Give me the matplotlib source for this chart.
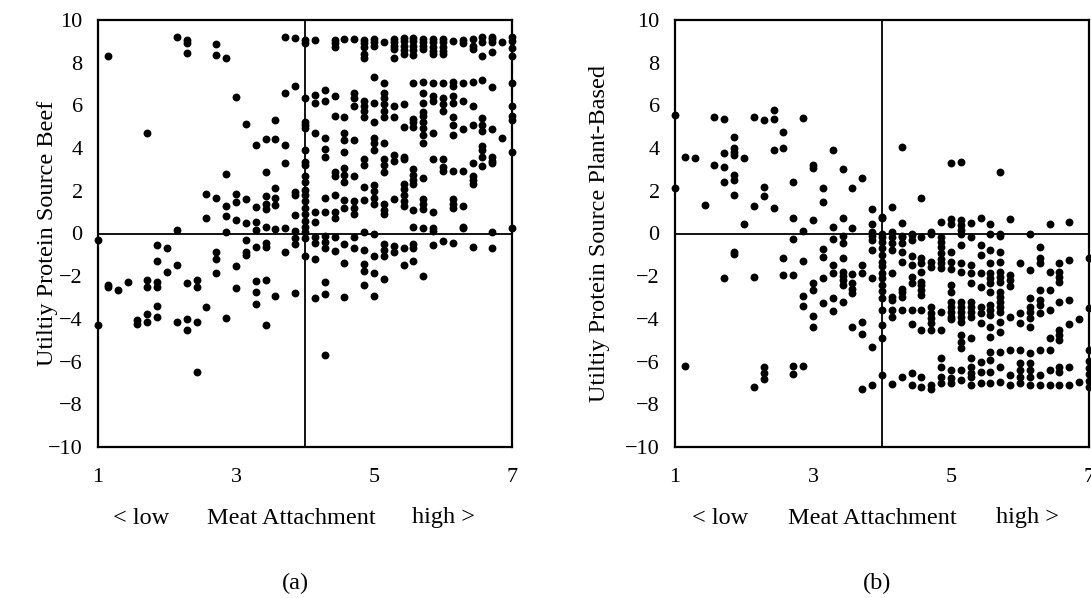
import matplotlib
matplotlib.use("Agg")
import matplotlib.pyplot as plt

# ---------------- data ----------------
# x levels of Meat Attachment (steps of 1/7)
x_levels = [1.0, 1.14, 1.29, 1.43, 1.57, 1.71, 1.86, 2.0, 2.14, 2.29, 2.43, 2.57, 2.71,
            2.86, 3.0, 3.14, 3.29, 3.43, 3.57, 3.71, 3.86, 4.0, 4.14, 4.29, 4.43, 4.57,
            4.71, 4.86, 5.0, 5.14, 5.29, 5.43, 5.57, 5.71, 5.86, 6.0, 6.14, 6.29, 6.43,
            6.57, 6.71, 6.86, 7.0]

# (a) Utility protein source beef: y values per x level
beef_y = [
    [-0.3, -4.29],
    [8.3, -2.4, -2.5],
    [-2.65],
    [-2.26],
    [-4.05, -4.25],
    [4.7, -2.2, -2.5, -3.75, -4.13],
    [-0.55, -1.3, -2.26, -2.5, -3.4, -3.93],
    [-0.66, -1.82],
    [9.22, 0.16, -1.48, -4.13],
    [9.06, 8.9, 8.44, -2.3, -4.02, -4.52],
    [-2.2, -2.52, -4.13, -6.5],
    [1.83, 0.71, -3.46],
    [8.86, 8.36, 1.65, -0.88, -1.19, -1.87],
    [8.2, 2.8, 1.29, 0.82, 0.06, -3.97],
    [6.38, 1.83, 1.49, 0.63, -1.52, -2.57],
    [5.11, 1.62, 0.48, -0.3, -0.85, -1.0],
    [4.15, 1.26, 0.55, 0.16, -0.62, -2.21, -2.72, -3.3],
    [4.41, 2.87, 1.76, 1.37, 1.15, 0.32, -0.46, -0.65, -2.18, -4.3],
    [5.33, 4.43, 2.13, 1.65, 1.33, 0.21, -2.93],
    [9.22, 6.57, 4.15, 3.32, 0.27, -0.85],
    [9.17, 6.92, 1.96, 1.8, 0.87, 0.1, -0.2, -0.5, -2.77],
    [9.06, 8.9, 6.33, 5.24, 5.08, 4.93, 3.9, 3.36, 3.2, 2.7, 2.43, 2.04, 1.8, 1.5,
     1.2, 0.9, 0.6, 0.3, 0.05, -0.2, -1.05],
    [9.06, 6.5, 6.09, 4.69, 1.02, 0.55, -0.15, -0.43, -1.21, -3.04],
    [6.7, 6.2, 4.45, 3.98, 3.59, 1.65, 1.02, -0.1, -0.41, -0.66, -2.26, -2.85, -5.69],
    [9.06, 8.9, 8.75, 6.42, 5.5, 2.9, 2.67, 1.8, 1.0, 0.71, -0.15, -0.8],
    [9.1, 5.47, 4.69, 4.38, 3.8, 3.07, 2.75, 2.43, 1.57, 1.18, -0.5, -1.37, -2.96],
    [9.1, 6.6, 6.35, 5.99, 4.38, 2.7, 1.5, 1.2, 0.9, -0.15, -0.66],
    [9.06, 8.9, 8.75, 8.39, 8.23, 6.2, 5.97, 5.74, 5.47, 3.5, 3.2, 2.2, 1.57, 0.05,
     -0.76, -1.41, -1.76, -2.41],
    [9.1, 8.99, 8.8, 7.34, 6.12, 5.24, 4.45, 4.23, 3.9, 2.27, 2.0, 1.65, 1.4, 0.0,
     -1.05, -1.87, -2.91],
    [8.97, 7.03, 6.6, 6.35, 6.05, 5.74, 5.47, 4.23, 3.5, 3.2, 2.9, 1.4, 1.1, 0.9,
     -0.5, -0.76, -1.05, -2.15],
    [9.1, 8.95, 8.8, 8.65, 8.2, 5.98, 5.47, 3.67, 3.4, 1.6, -0.6, -0.85],
    [9.15, 9.0, 8.8, 8.6, 8.4, 6.05, 5.0, 3.59, 3.5, 2.3, 2.1, 1.8, 1.5, 1.3, -0.7, -1.48],
    [9.15, 9.0, 8.8, 8.6, 8.35, 7.03, 5.34, 5.2, 5.0, 3.0, 2.75, 2.5, 2.3, 1.1, 0.3,
     -0.5, -0.7, -1.3],
    [9.1, 8.95, 8.8, 8.65, 7.1, 6.6, 6.1, 5.7, 5.5, 5.2, 4.95, 4.6, 4.23, 2.6, 1.6,
     1.4, 1.15, 0.25, -1.98],
    [9.1, 8.95, 8.75, 8.55, 8.4, 7.03, 6.42, 6.2, 4.69, 3.5, 1.0, 0.25, 0.1, -0.54],
    [9.1, 8.95, 8.75, 8.55, 8.4, 7.03, 6.35, 6.05, 5.74, 3.5, 3.1, 2.95, -0.33],
    [9.0, 7.1, 6.9, 6.42, 6.1, 5.47, 5.08, 4.6, 2.95, 1.6, 1.4, 1.2, -0.45],
    [9.06, 8.9, 7.03, 6.2, 4.9, 2.95, 1.3, 0.3, 0.25],
    [9.1, 8.8, 8.65, 7.1, 5.99, 5.1, 3.3, 2.7, 2.5, 2.3, -0.63],
    [9.2, 8.97, 8.3, 7.2, 5.4, 5.1, 4.8, 4.1, 3.9, 3.6, 3.15],
    [9.2, 9.1, 8.97, 8.5, 6.87, 4.9, 3.6, 3.3, 3.4, 0.05, -0.7],
    [8.97, 4.45],
    [9.2, 9.0, 8.7, 8.3, 7.03, 5.97, 5.5, 5.3, 3.83, 0.25],
]

# (b) Utility protein source plant-based: y values per x level
plant_y = [
    [5.55, 2.12],
    [3.6, -6.19],
    [3.55],
    [1.33],
    [5.47, 3.21],
    [5.36, 3.76, 3.13, 2.4, -2.1],
    [4.53, 3.99, 3.8, 3.68, 2.74, 2.5, 1.8, -0.85, -0.96],
    [3.55, 0.45],
    [5.47, 1.29, -2.02, -7.18],
    [5.31, 2.19, 1.76, -6.27, -6.55, -6.83],
    [5.78, 5.36, 3.91, 1.21],
    [4.74, 4.02, -1.16, -1.94],
    [2.4, 0.71, -0.27, -1.94, -6.19, -6.6],
    [5.39, 0.12, -1.29, -2.91, -3.4, -6.19],
    [3.21, 3.05, 0.63, -2.3, -2.65, -3.86, -4.36],
    [2.12, 1.46, -0.73, -1.09, -2.1, -3.27],
    [3.91, 0.32, -0.27, -1.48, -1.86, -3.0, -3.63],
    [3.0, 0.74, -0.12, -0.45, -1.16, -1.8, -2.0, -2.2, -2.4, -3.2],
    [2.15, 0.27, -1.9, -2.3, -2.6, -2.8, -4.4],
    [2.58, -1.48, -1.86, -4.16, -4.7, -7.3],
    [1.13, 0.43, 0.06, -0.1, -0.3, -0.78, -2.1, -5.3, -7.1],
    [0.79, 0.74, 0.0, -0.15, -0.38, -0.7, -1.0, -1.32, -1.5, -1.87, -2.1, -2.4, -2.7,
     -3.0, -3.58, -4.3, -4.9, -6.63],
    [1.26, 0.05, -0.15, -0.46, -0.77, -1.87, -2.96, -3.1, -3.58, -3.93, -7.05],
    [4.07, 0.48, -0.1, -0.15, -0.46, -0.85, -1.32, -2.6, -2.75, -2.96, -3.58, -6.71],
    [0.0, -0.08, -0.3, -1.05, -1.48, -2.02, -2.33, -3.58, -4.25, -6.55, -7.1],
    [1.68, -0.15, -1.17, -1.4, -1.79, -2.25, -2.41, -2.64, -2.87, -3.58, -4.52, -6.71, -7.18],
    [0.05, 0.0, -1.32, -1.56, -3.43, -3.74, -3.98, -4.21, -4.52, -7.1, -7.26],
    [0.52, -0.15, -0.38, -0.62, -0.9, -1.2, -1.4, -1.6, -3.66, -4.52, -5.85, -6.24,
     -6.71, -7.02],
    [3.32, 0.7, 0.43, -0.85, -1.32, -1.64, -2.41, -2.72, -3.2, -3.43, -3.66, -3.9,
     -4.0, -6.4, -6.79, -7.02],
    [3.36, 0.63, 0.4, 0.16, 0.0, -0.54, -1.4, -1.79, -3.2, -3.43, -3.66, -3.9, -4.13,
     -4.75, -5.06, -5.37, -6.4, -6.86],
    [0.48, -0.15, -1.48, -1.87, -2.33, -3.2, -3.43, -3.66, -3.9, -4.9, -5.85, -6.24,
     -6.55, -6.71, -7.1],
    [0.74, -0.54, -1.0, -1.87, -2.5, -3.43, -3.74, -4.21, -6.01, -6.47, -7.02],
    [0.43, 0.0, -0.77, -1.4, -1.87, -2.1, -2.33, -2.72, -3.35, -3.58, -3.82, -4.36,
     -4.83, -5.53, -5.92, -6.47, -7.02],
    [2.87, 0.0, -0.1, -0.85, -1.32, -1.79, -2.02, -2.25, -2.72, -2.96, -3.2, -3.43,
     -3.66, -4.13, -4.6, -5.53, -6.24, -6.94],
    [0.7, -1.95, -2.2, -2.45, -3.9, -5.45, -6.63, -7.1],
    [-1.4, -3.74, -4.21, -5.45, -6.08, -6.4, -6.7, -7.02],
    [0.0, -1.72, -3.04, -3.43, -3.7, -3.98, -4.36, -5.61, -6.08, -6.4, -6.7, -7.1],
    [-0.62, -1.17, -1.4, -2.64, -3.1, -3.35, -3.74, -5.45, -6.63, -7.1],
    [0.43, -1.79, -2.64, -3.58, -4.9, -5.45, -6.39, -7.1],
    [-1.4, -1.79, -2.02, -2.25, -3.2, -4.52, -4.75, -5.0, -6.24, -6.47, -7.1],
    [0.52, -1.24, -3.12, -4.25, -6.24, -7.1],
    [-4.0, -6.94],
    [-1.17, -3.5, -5.45, -5.99, -6.3, -6.6, -6.9, -7.2],
]

x_ticks = [1, 3, 5, 7]
y_ticks = list(range(-10, 11, 2))
y_labels = ["Utiltiy Protein Source Beef", "Utiltiy Protein Source Plant-Based"]
x_words = ["< low", "Meat Attachment", "high >"]
panel_tags = ["(a)", "(b)"]

# ---------------- drawing ----------------
plt.rcParams["font.family"] = ["Liberation Serif", "DejaVu Serif"]
FS_TICK = 16
FS = 17.5

fig = plt.figure(figsize=(10.91, 5.98), dpi=100)
W, H = 1091.0, 598.0

panels = [
    dict(left=98, ys=beef_y, ylabx=48, words=[141, 291, 444], tag=295),
    dict(left=675, ys=plant_y, ylabx=600, words=[720, 872, 1027], tag=877),
]

for i, p in enumerate(panels):
    ax = fig.add_axes([p["left"] / W, (H - 447) / H, 414 / W, 427 / H])
    xs, ys = [], []
    for xv, col in zip(x_levels, p["ys"]):
        for yv in col:
            xs.append(xv)
            ys.append(yv)
    ax.scatter(xs, ys, s=32, color="black", zorder=3, clip_on=False, linewidths=0)
    ax.axvline(4, color="black", lw=1.3, zorder=2)
    ax.axhline(0, color="black", lw=1.3, zorder=2)
    ax.set_xlim(1, 7)
    ax.set_ylim(-10, 10)
    ax.set_xticks(x_ticks)
    ax.set_yticks(y_ticks)
    ax.set_yticklabels([f"{v}".replace("-", "\u2212") for v in y_ticks])
    ax.tick_params(length=0, labelsize=FS_TICK)
    ax.tick_params(axis="x", pad=15)
    ax.tick_params(axis="y", pad=11)
    for sp in ax.spines.values():
        sp.set_linewidth(1.6)
        sp.set_color("black")
    fig.text(p["ylabx"] / W, 1 - 233 / H, y_labels[i], rotation=90,
             ha="center", va="center", fontsize=FS)
    for wx, word in zip(p["words"], x_words):
        fig.text(wx / W, 1 - 518 / H, word, ha="center", va="center", fontsize=FS)
    fig.text(p["tag"] / W, 1 - 583 / H, panel_tags[i], ha="center", va="center", fontsize=FS)

fig.savefig("out.png", dpi=100)
